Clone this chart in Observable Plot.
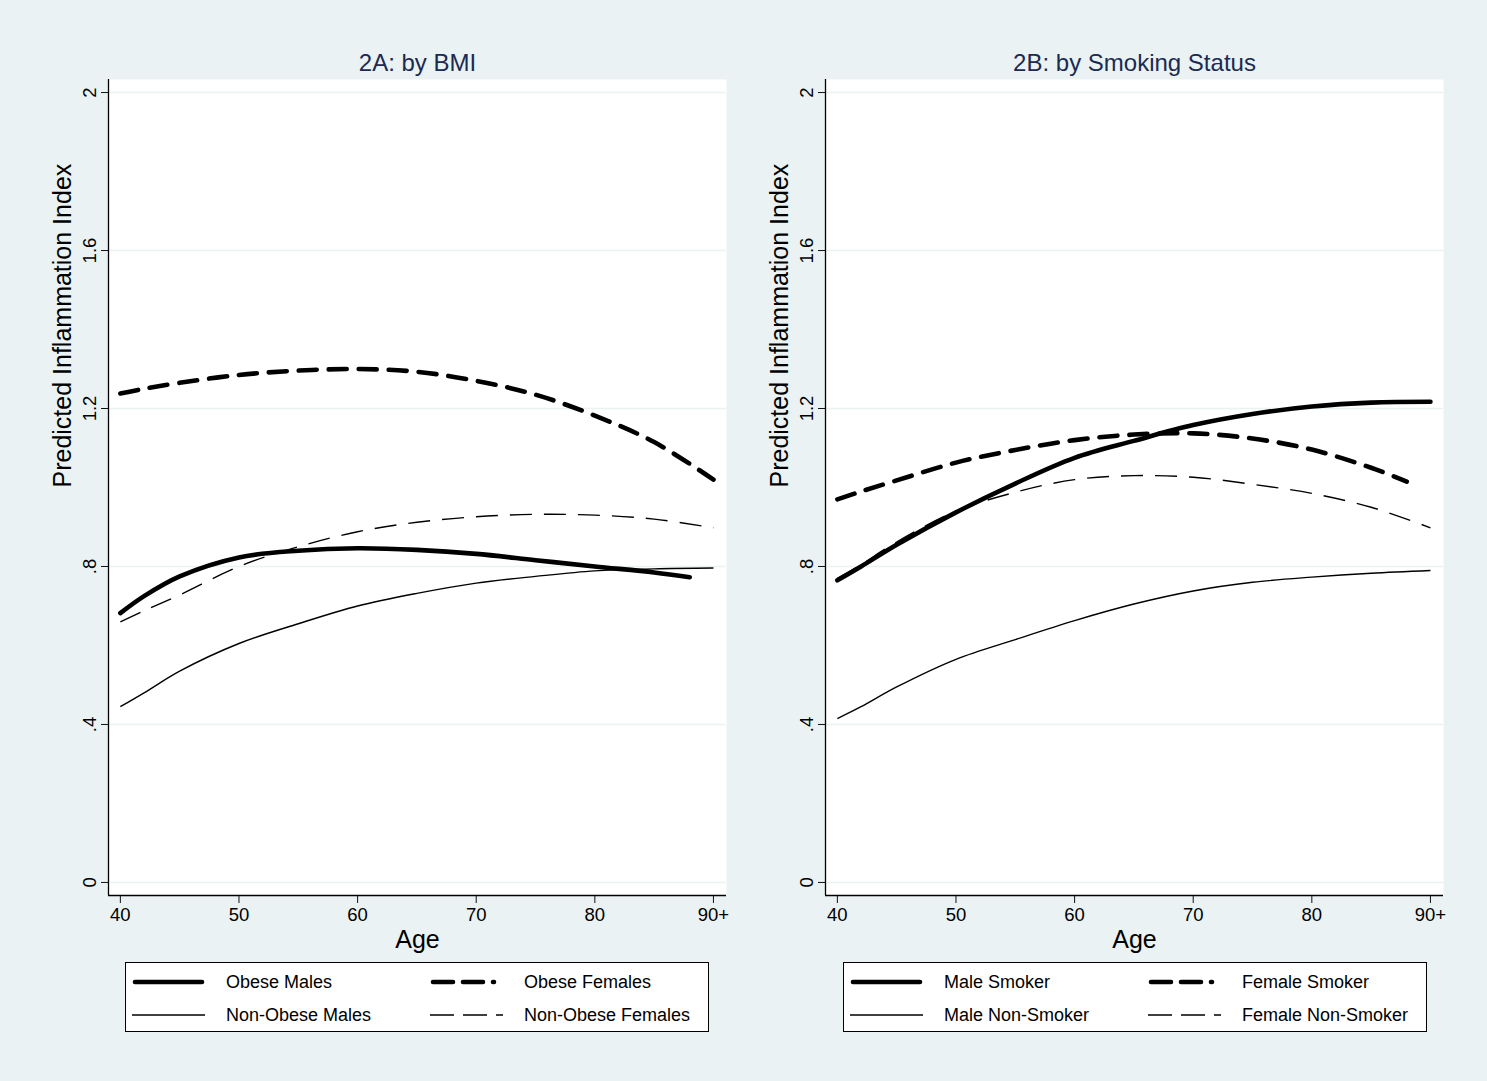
<!DOCTYPE html>
<html>
<head>
<meta charset="utf-8">
<script src="https://cdn.jsdelivr.net/npm/d3@7"></script>
<script src="https://cdn.jsdelivr.net/npm/@observablehq/plot@0.6"></script>
<style>
  body { margin: 0; background: #EAF2F3; font-family: "Liberation Sans", Arial, sans-serif; }
  #root { position: relative; width: 1487px; height: 1081px; overflow: hidden; background: #EAF2F3; }
  .panel { position: absolute; top: 0; }
  .legend { position: absolute; top: 962px; width: 584px; height: 70px; box-sizing: border-box; border: 1px solid #000; background: #fff; }
  .legend .lab { position: absolute; font-size: 18px; line-height: 20px; color: #000; white-space: nowrap; }
  .legend svg { position: absolute; left: 0; top: 0; }
</style>
</head>
<body>
<div id="root"></div>
<script>
// ---------- data ----------
const ages      = [40, 42, 45, 50, 55, 60, 65, 70, 75, 80, 85, 90];
const agesShort = [40, 42, 45, 50, 55, 60, 65, 70, 75, 80, 85, 88];

const xTicks = [40, 50, 60, 70, 80, 90];
const xTickLabels = ["40", "50", "60", "70", "80", "90+"];
const yTicks = [0, 0.4, 0.8, 1.2, 1.6, 2];
const yTickLabels = ["0", ".4", ".8", "1.2", "1.6", "2"];

const panelTitles = ["2A: by BMI", "2B: by Smoking Status"];
const xLabel = "Age";
const yLabel = "Predicted Inflammation Index";

// Panel 2A: by BMI
const seriesNamesA = ["Obese Males", "Obese Females", "Non-Obese Males", "Non-Obese Females"];
const obeseMales      = [0.682, 0.725, 0.775, 0.823, 0.840, 0.846, 0.842, 0.832, 0.816, 0.800, 0.785, 0.773]; // agesShort
const obeseFemales    = [1.238, 1.250, 1.265, 1.285, 1.296, 1.300, 1.293, 1.270, 1.235, 1.182, 1.115, 1.020];
const nonObeseMales   = [0.445, 0.480, 0.535, 0.605, 0.655, 0.700, 0.732, 0.758, 0.775, 0.789, 0.794, 0.796];
const nonObeseFemales = [0.660, 0.688, 0.728, 0.800, 0.850, 0.888, 0.912, 0.926, 0.932, 0.930, 0.920, 0.898];

// Panel 2B: by Smoking Status
const seriesNamesB = ["Male Smoker", "Female Smoker", "Male Non-Smoker", "Female Non-Smoker"];
const maleSmoker      = [0.765, 0.800, 0.855, 0.937, 1.010, 1.075, 1.118, 1.158, 1.186, 1.205, 1.215, 1.217];
const femaleSmoker    = [0.970, 0.990, 1.018, 1.063, 1.095, 1.120, 1.134, 1.137, 1.124, 1.096, 1.050, 1.015]; // agesShort
const maleNonSmoker   = [0.415, 0.445, 0.495, 0.565, 0.615, 0.663, 0.705, 0.738, 0.760, 0.773, 0.783, 0.790];
const femaleNonSmoker = [0.770, 0.805, 0.862, 0.940, 0.988, 1.020, 1.030, 1.026, 1.008, 0.985, 0.950, 0.898];

// ---------- styles (by series slot) ----------
const lineStyles = [
  { strokeWidth: 4.6, strokeDasharray: null,    strokeLinecap: "round" }, // thick solid
  { strokeWidth: 4.6, strokeDasharray: "18,12", strokeLinecap: "round" }, // thick dashed
  { strokeWidth: 1.4, strokeDasharray: null,    strokeLinecap: "butt"  }, // thin solid
  { strokeWidth: 1.4, strokeDasharray: "22,12", strokeLinecap: "butt"  }  // thin dashed
];
const legendDash = [null, "20,10", null, "24,9"];
const legendLen = [67, 61, 73, 73];

const xDomain = [39, 91.1];
const yDomain = [-0.033, 2.033];

function rows(xs, vs) { return xs.map((a, i) => ({ age: a, v: vs[i] })); }

function makePanel(title, seriesList) {
  const marks = [
    Plot.frame({ fill: "white", stroke: "none" }),
    Plot.gridY(yTicks, { stroke: "#EAF2F3", strokeOpacity: 1, strokeWidth: 1.5 }),
    Plot.axisY(yTicks, {
      label: null,
      tickFormat: d => yTickLabels[yTicks.indexOf(d)],
      tickRotate: -90, tickSize: 7, tickPadding: 6, fontSize: 18.5, stroke: "#111"
    }),
    Plot.axisX(xTicks, {
      label: null,
      tickFormat: d => xTickLabels[xTicks.indexOf(d)],
      tickSize: 8, tickPadding: 4, fontSize: 18.5, stroke: "#111"
    }),
    Plot.ruleX([xDomain[0]], { stroke: "#000", strokeWidth: 1.3 }),
    Plot.ruleY([yDomain[0]], { stroke: "#000", strokeWidth: 1.3 })
  ];
  seriesList.forEach((s, i) => {
    const st = lineStyles[i];
    marks.push(Plot.line(rows(s.x, s.v), {
      x: "age", y: "v", curve: "catmull-rom", stroke: "#000",
      strokeWidth: st.strokeWidth, strokeDasharray: st.strokeDasharray,
      strokeLinecap: st.strokeLinecap, strokeLinejoin: "round"
    }));
  });
  marks.push(
    Plot.text([title], { frameAnchor: "top", dy: -9, lineAnchor: "bottom", fontSize: 24, fill: "#1c2a52" }),
    Plot.text([xLabel], { frameAnchor: "bottom", dy: 52, lineAnchor: "bottom", fontSize: 25, fill: "#000" }),
    Plot.text([yLabel], { frameAnchor: "left", dx: -46, rotate: -90, lineAnchor: "middle", fontSize: 25, fill: "#000" })
  );
  return Plot.plot({
    width: 740, height: 960,
    marginLeft: 108, marginRight: 14, marginTop: 79, marginBottom: 65,
    x: { domain: xDomain },
    y: { domain: yDomain },
    style: { background: "transparent", fontFamily: "'Liberation Sans', Arial, sans-serif", color: "#000", overflow: "visible" },
    marks
  });
}

function makeLegend(left, names) {
  const box = document.createElement("div");
  box.className = "legend";
  box.style.left = left + "px";
  const ns = "http://www.w3.org/2000/svg";
  const svg = document.createElementNS(ns, "svg");
  svg.setAttribute("width", 582); svg.setAttribute("height", 68);
  box.appendChild(svg);
  const colX = [6, 304], textX = [100, 398], rowY = [19, 52];
  names.forEach((name, i) => {
    const c = i % 2, r = Math.floor(i / 2);
    const st = lineStyles[i];
    const x0 = colX[c] + (st.strokeLinecap === "round" ? 3 : 0);
    const ln = document.createElementNS(ns, "line");
    ln.setAttribute("x1", x0); ln.setAttribute("x2", x0 + legendLen[i]);
    ln.setAttribute("y1", rowY[r]); ln.setAttribute("y2", rowY[r]);
    ln.setAttribute("stroke", "#000");
    ln.setAttribute("stroke-width", st.strokeWidth);
    ln.setAttribute("stroke-linecap", st.strokeLinecap);
    if (legendDash[i]) ln.setAttribute("stroke-dasharray", legendDash[i]);
    svg.appendChild(ln);
    const t = document.createElement("div");
    t.className = "lab";
    t.textContent = name;
    t.style.left = textX[c] + "px";
    t.style.top = (rowY[r] - 10) + "px";
    box.appendChild(t);
  });
  return box;
}

const root = document.getElementById("root");

const pA = makePanel(panelTitles[0], [
  { x: agesShort, v: obeseMales },
  { x: ages, v: obeseFemales },
  { x: ages, v: nonObeseMales },
  { x: ages, v: nonObeseFemales }
]);
pA.classList.add("panel"); pA.style.left = "0px";
root.appendChild(pA);

const pB = makePanel(panelTitles[1], [
  { x: ages, v: maleSmoker },
  { x: agesShort, v: femaleSmoker },
  { x: ages, v: maleNonSmoker },
  { x: ages, v: femaleNonSmoker }
]);
pB.classList.add("panel"); pB.style.left = "717px";
root.appendChild(pB);

root.appendChild(makeLegend(125, seriesNamesA));
root.appendChild(makeLegend(843, seriesNamesB));
</script>
</body>
</html>
